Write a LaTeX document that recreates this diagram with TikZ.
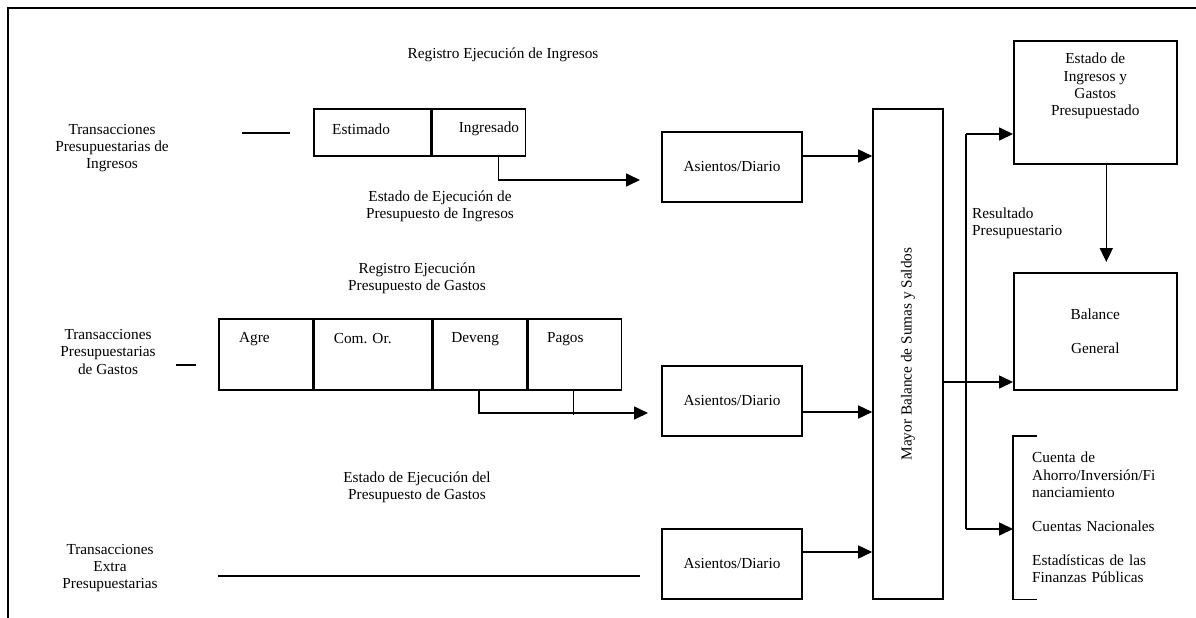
\documentclass[tikz,border=0pt]{standalone}
\usepackage{fontspec}
\setmainfont{Liberation Serif}
\usetikzlibrary{arrows.meta,calc,positioning}

\begin{document}
\begin{tikzpicture}[x=1pt,y=-1pt]
            \tikzstyle{every node} = [font=\fontsize{15.3}{17.2}\selectfont, inner sep=0pt]
            \tikzstyle{box} = [rectangle, draw, line width=1.6pt]
            \tikzstyle{cell} = [rectangle, draw, line width=1.6pt]
            \tikzstyle{txt} = [align=center]
            \tikzstyle{line} = [line width=1.6pt]
            \tikzstyle{arrow} = [line width=1.6pt, -{Triangle[length=14pt,width=13pt]}]

            \useasboundingbox (0,0) rectangle (1196,618);
            \draw [line width=2pt] (8,618) -- (8,8) -- (1196,8);

            % ingresos
            \node (regIng) [txt] at (503,55) {Registro Ejecución de Ingresos};
            \node (trIng) [txt] at (112,148) {Transacciones\\Presupuestarias de\\Ingresos};
            \coordinate (stubIngA) at (242,133);
            \coordinate (stubIngB) at (290,133);
            \draw [line] (stubIngA) -- (stubIngB);
            \node (estim) [cell, minimum width=117pt, minimum height=47pt, anchor=north west] at (313,108) {};
            \node (ingr) [cell, minimum width=93pt, minimum height=47pt, anchor=west] at (estim.east) {};
            \node (tEstim) [anchor=west] at ($(estim.west)+(19,-3)$) {Estimado};
            \node (tIngr) [anchor=west] at ($(ingr.west)+(27,-3)$) {Ingresado};
            \node (asi1) [box, minimum width=140pt, minimum height=70pt] at (732,167) {Asientos/Diario};
            \coordinate (ingEnd) at (640,180);
            \draw [arrow] ($(ingr.south west)+(67,0)$) |- (ingEnd);
            \node (estIng) [txt] at (440,206) {Estado de Ejecución de\\Presupuesto de Ingresos};

            % gastos
            \node (regGas) [txt] at (417,278) {Registro Ejecución\\Presupuesto de Gastos};
            \node (trGas) [txt] at (108,352) {Transacciones\\Presupuestarias\\de Gastos};
            \coordinate (stubGasA) at (176,365);
            \coordinate (stubGasB) at (196,365);
            \draw [line] (stubGasA) -- (stubGasB);
            \node (agre) [cell, minimum width=94pt, minimum height=71pt, anchor=north west] at (218,318) {};
            \node (comor) [cell, minimum width=117pt, minimum height=71pt, anchor=west] at (agre.east) {};
            \node (deveng) [cell, minimum width=94pt, minimum height=71pt, anchor=west] at (comor.east) {};
            \node (pagos) [cell, minimum width=93pt, minimum height=71pt, anchor=west] at (deveng.east) {};
            \node (tAgre) [anchor=west] at ($(agre.north west)+(21,21)$) {Agre};
            \node (tComor) [anchor=west] at ($(comor.north west)+(20,21)$) {Com. Or.};
            \node (tDeveng) [anchor=west] at ($(deveng.north west)+(19,21)$) {Deveng};
            \node (tPagos) [anchor=west] at ($(pagos.north west)+(19,21)$) {Pagos};
            \node (asi2) [box, minimum width=140pt, minimum height=70pt] at (732,401) {Asientos/Diario};
            \coordinate (gasEnd) at (648,413);
            \draw [arrow] ($(deveng.south west)+(47,0)$) |- (gasEnd);
            \draw [line, line width=1pt] ($(pagos.south west)+(46,0)$) -- ++(0,24);
            \node (estGas) [txt] at (417,487) {Estado de Ejecución del\\Presupuesto de Gastos};

            % extra presupuestarias
            \node (trExt) [txt] at (110,568) {Transacciones\\Extra\\Presupuestarias};
            \coordinate (extA) at (218,576);
            \coordinate (extB) at (640,576);
            \draw [line] (extA) -- (extB);
            \node (asi3) [box, minimum width=140pt, minimum height=70pt] at (732,564) {Asientos/Diario};

            % mayor
            \node (mayor) [box, minimum width=70pt, minimum height=490pt] at (908,354) {};
            \node (mayorTxt) [rotate=90] at (mayor.center) {Mayor Balance de Sumas y Saldos};
            \draw [arrow] ($(asi1.east)+(0,-11)$) coordinate (a1) -- (a1 -| mayor.west);
            \draw [arrow] ($(asi2.east)+(0,11)$) coordinate (a2) -- (a2 -| mayor.west);
            \draw [arrow] ($(asi3.east)+(0,-12)$) coordinate (a3) -- (a3 -| mayor.west);

            % estados
            \node (estado) [box, minimum width=163pt, minimum height=123pt, anchor=north west] at (1013,40) {};
            \node (estadoTxt) [txt, anchor=north] at ($(estado.north)+(0,13)$) {Estado de\\Ingresos y\\Gastos\\Presupuestado};
            \node (bal) [box, txt, minimum width=163pt, minimum height=117pt, anchor=north west] at (1013,272) {Balance\\[17pt]General};
            \node (resul) [anchor=west, align=left] at (972,223) {Resultado\\Presupuestario};
            \node (brk) [anchor=north west, minimum height=163pt, text width=150pt, align=left, inner xsep=19pt] at (1013,436) {Cuenta de\\Ahorro/Inversión/Fi\\nanciamiento\\[17pt]Cuentas Nacionales\\[17pt]Estadísticas de las\\Finanzas Públicas};
            \draw [line] ($(brk.north west)+(24,0)$) -- (brk.north west) -- (brk.south west) -- ($(brk.south west)+(24,0)$);

            \coordinate (busTop) at (966,134);
            \coordinate (busBot) at (966,529);
            \draw [line] (busTop) -- (busBot);
            \draw [arrow] (busTop) -- (busTop -| estado.west);
            \draw [arrow] (busBot) -- (busBot -| brk.west);
            \draw [arrow] ($(mayor.east)+(0,28)$) coordinate (m1) -- (m1 -| bal.west);
            \draw [arrow, shorten >=10pt] ($(estado.south)+(11,0)$) coordinate (d1) -- (d1 |- bal.north);
        \end{tikzpicture}
\end{document}
